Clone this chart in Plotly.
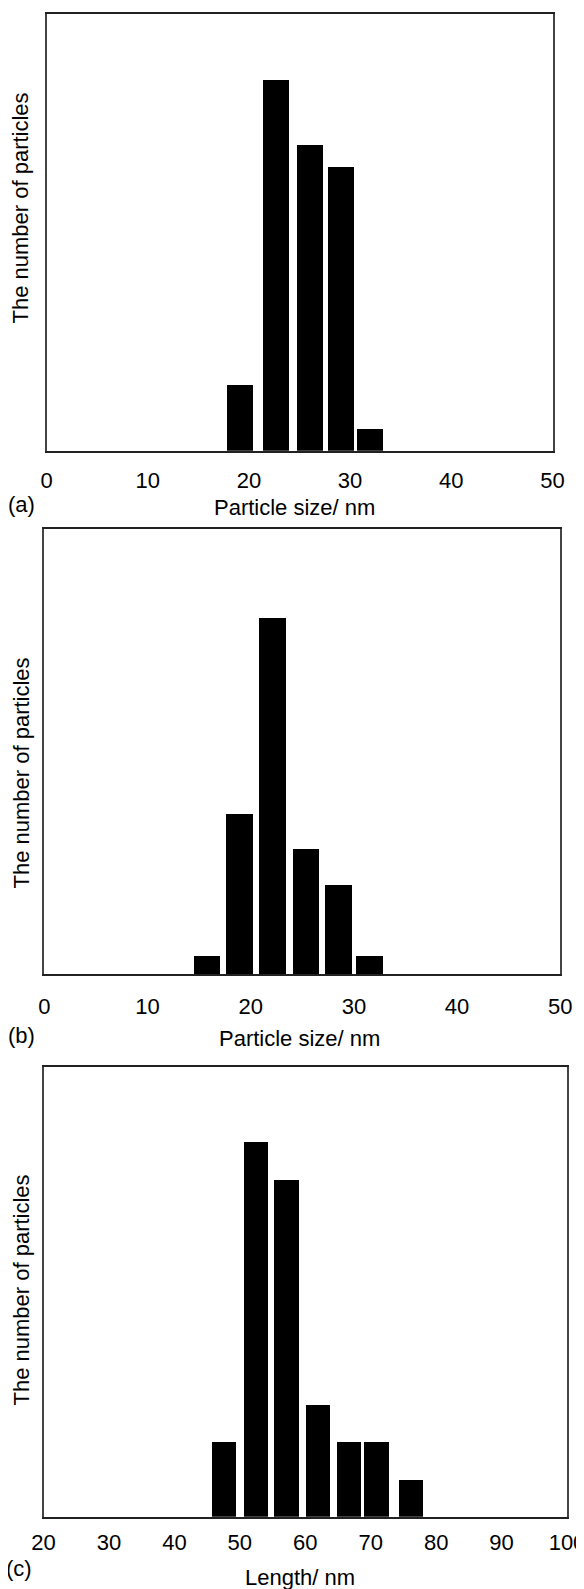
import plotly.graph_objects as go

# page is 584x1589; the html body adds an 8px margin, so the figure is 8px smaller
OFF = 8
W, H = 584 - OFF, 1589 - OFF

# ---- data ----
a_size = [19.07, 22.6, 25.95, 29.04, 31.93]
a_count = [3, 17, 14, 13, 1]
b_size = [15.81, 18.96, 22.13, 25.37, 28.52, 31.56]
b_count = [1, 9, 20, 7, 5, 1]
c_length = [47.55, 52.37, 57.07, 61.93, 66.6, 70.8, 76.1]
c_count = [2, 10, 9, 3, 2, 2, 1]

ab_ticks = [0, 10, 20, 30, 40, 50]
c_ticks = [20, 30, 40, 50, 60, 70, 80, 90, 100]

FONT = "Liberation Sans, Arial, Helvetica, sans-serif"

def px_x(v):
    return (v - OFF) / W

def px_y(v):
    return 1 - (v - OFF) / H

fig = go.Figure()
fig.add_trace(go.Bar(x=a_size, y=a_count, width=2.55, marker=dict(color="black", line=dict(width=0)),
                     xaxis="x", yaxis="y", showlegend=False))
fig.add_trace(go.Bar(x=b_size, y=b_count, width=2.56, marker=dict(color="black", line=dict(width=0)),
                     xaxis="x2", yaxis="y2", showlegend=False))
fig.add_trace(go.Bar(x=c_length, y=c_count, width=3.7, marker=dict(color="black", line=dict(width=0)),
                     xaxis="x3", yaxis="y3", showlegend=False))

panels = [
    # (x0, x1, y0, y1) in page px
    (46.5, 552.5, 13.7, 450.7),
    (44.3, 560.3, 529.0, 974.0),
    (43.5, 567.0, 1066.7, 1516.7),
]
xranges = [[0, 50], [0, 50], [20, 100]]
yranges = [[0, 20], [0, 25], [0, 12]]
ticks = [ab_ticks, ab_ticks, c_ticks]
ticklens = [9, 12, 5]

layout = dict(
    template="none",
    width=W, height=H,
    margin=dict(l=0, r=0, t=0, b=0, pad=0),
    paper_bgcolor="white", plot_bgcolor="white",
    font=dict(family=FONT, color="black", size=22),
    bargap=0,
)
for i, (x0, x1, y0, y1) in enumerate(panels):
    sx = "" if i == 0 else str(i + 1)
    layout["xaxis" + sx] = dict(
        domain=[px_x(x0), px_x(x1)], range=xranges[i], anchor="y" + sx,
        tickmode="array", tickvals=ticks[i], ticktext=[str(t) for t in ticks[i]],
        ticks="outside", ticklen=ticklens[i], tickcolor="rgba(0,0,0,0)",
        ticklabeloverflow="allow",
        showgrid=False, zeroline=False, automargin=False,
        showline=True, linecolor="#222", linewidth=1.5, mirror=True,
        tickfont=dict(size=22, family=FONT, color="black"), fixedrange=True,
    )
    layout["yaxis" + sx] = dict(
        domain=[px_y(y1), px_y(y0)], range=yranges[i], anchor="x" + sx,
        showticklabels=False, ticks="", showgrid=False, zeroline=False, automargin=False,
        showline=True, linecolor="#444", linewidth=1.5, mirror=True, fixedrange=True,
    )

annotations = []
def ann(text, x, y, size, angle=0):
    annotations.append(dict(text=text, x=px_x(x), y=px_y(y), xref="paper", yref="paper",
                            xanchor="center", yanchor="middle", showarrow=False,
                            textangle=angle, font=dict(size=size, family=FONT, color="black")))

ann("The number of particles", 20.5, 208, 22, -90)
ann("The number of particles", 20.5, 773, 22, -90)
ann("The number of particles", 20.5, 1290, 22, -90)
ann("Particle size/ nm", 294.5, 507, 22)
ann("Particle size/ nm", 299, 1038, 22)
ann("Length/ nm", 299.5, 1577, 22)
ann("(a)", 21, 505, 22)
ann("(b)", 21, 1035, 22)
ann("(c)", 19, 1568, 22)

layout["annotations"] = annotations
fig.update_layout(**layout)
fig.write_html("out.html")
